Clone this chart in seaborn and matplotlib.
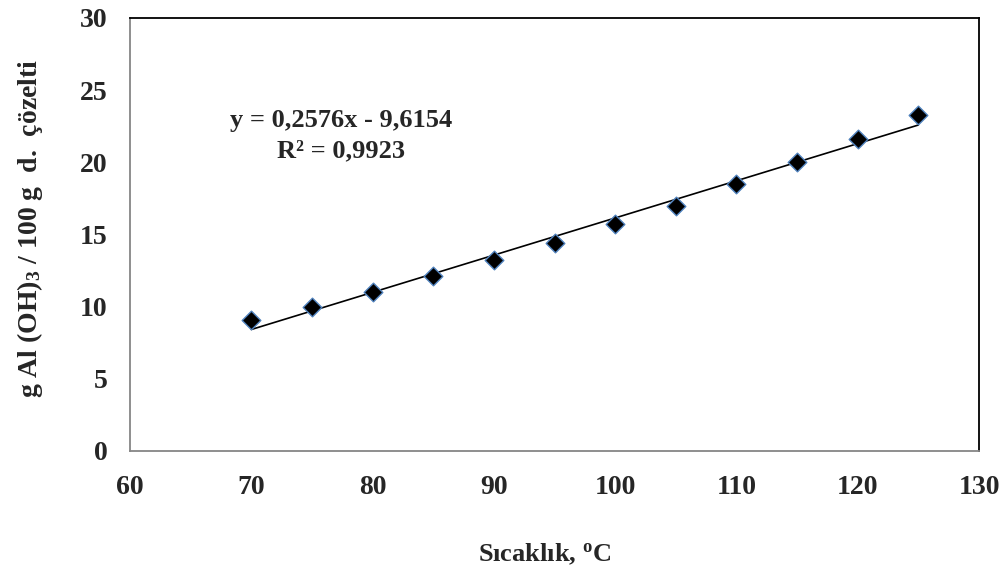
import matplotlib
matplotlib.use('Agg')
import matplotlib.pyplot as plt
import numpy as np
import pandas as pd
import seaborn as sns

# veri
sicaklik = [70, 75, 80, 85, 90, 95, 100, 105, 110, 115, 120, 125]
cozunurluk = [9.1, 10.0, 11.0, 12.1, 13.2, 14.4, 15.7, 17.0, 18.5, 20.0, 21.6, 23.3]
egim = 0.2576
kesim = -9.6154
r2 = 0.9923

sns.set_style('white')
plt.rcParams['font.family'] = ['Liberation Serif', 'DejaVu Serif']
plt.rcParams['font.weight'] = 'bold'
plt.rcParams['mathtext.fontset'] = 'custom'
plt.rcParams['mathtext.rm'] = 'Liberation Serif:bold'
plt.rcParams['mathtext.bf'] = 'Liberation Serif:bold'
plt.rcParams['mathtext.it'] = 'Liberation Serif:bold:italic'

df = pd.DataFrame({'T': sicaklik, 'c': cozunurluk})
trend = pd.DataFrame({'T': [sicaklik[0], sicaklik[-1]]})
trend['c'] = egim * trend['T'] + kesim

fig = plt.figure(figsize=(10.04, 5.71), dpi=100)
ax = fig.add_axes([0.1295, 0.2102, 0.8456, 0.7583])

sns.lineplot(data=trend, x='T', y='c', color='black', linewidth=1.2, ax=ax)
sns.scatterplot(data=df, x='T', y='c', marker='D', s=90, color='black',
                edgecolor='#4f81bd', linewidth=1.0, ax=ax, zorder=3)

ax.set_xlim(60, 130)
ax.set_ylim(0, 30)
ax.set_xticks(range(60, 131, 10))
ax.set_yticks(range(0, 31, 5))
ax.tick_params(length=0, labelsize=20)
ax.tick_params(axis='y', pad=16)
ax.tick_params(axis='x', pad=17)
for lab in ax.get_xticklabels() + ax.get_yticklabels():
    lab.set_fontweight('bold')
ax.set_xlabel('')
ax.set_ylabel('')

for s in ['left', 'bottom']:
    ax.spines[s].set_color('#868686')
    ax.spines[s].set_linewidth(1.3)
for s in ['top', 'right']:
    ax.spines[s].set_color('black')
    ax.spines[s].set_linewidth(1.3)

denklem = f'y = {egim:.4f}x - {abs(kesim):.4f}'.replace('.', ',') + '\n' + \
          f'R² = {r2:.4f}'.replace('.', ',')
fig.text(0.3396, 0.763, denklem, ha='center', va='center',
         fontsize=19, fontweight='bold', multialignment='center', linespacing=1.4)

fig.text(0.030, 0.600, r'g Al (OH)$_{3}$ / 100 g  d.  çözelti', rotation=90,
         ha='center', va='center', fontsize=20, fontweight='bold')
fig.text(0.542, 0.030, r'Sıcaklık, $^{\mathrm{o}}$C', ha='center', va='center',
         fontsize=19, fontweight='bold')

fig.savefig('out.png', dpi=100)
